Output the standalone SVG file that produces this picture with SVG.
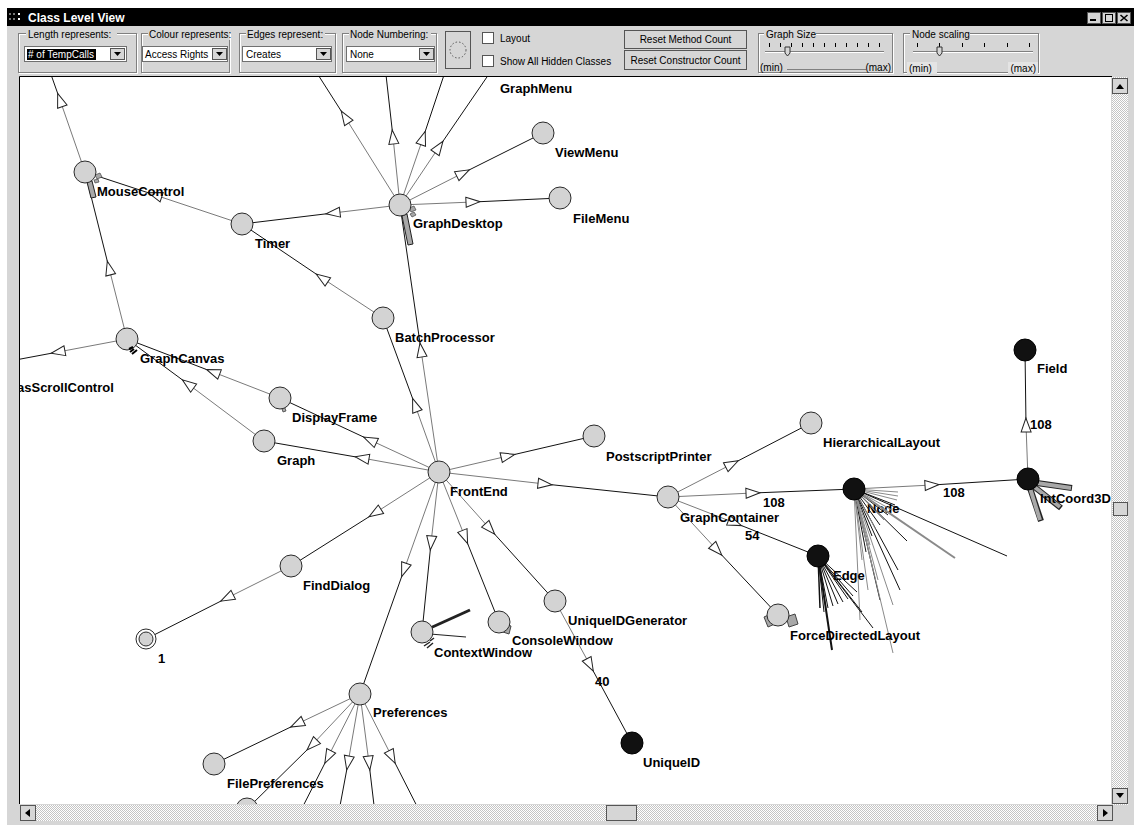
<svg xmlns="http://www.w3.org/2000/svg" width="1134" height="825" viewBox="0 0 1134 825">
<style>
.ui{font-family:"Liberation Sans",Arial,sans-serif;font-size:10px;fill:#000}
.lbl{font-family:"Liberation Sans",Arial,sans-serif;font-size:13px;font-weight:bold;fill:#000}
.n{fill:#d3d3d3;stroke:#2a2a2a;stroke-width:1}
.b{fill:#111;stroke:#000;stroke-width:1}
.g{stroke:#7a7a7a;stroke-width:1;fill:none}
.k{stroke:#111;stroke-width:1;fill:none;marker-start:url(#ar)}
.et1{fill:none;stroke:#fff}
.et2{fill:none;stroke:#808080}
.face{fill:#d6d6d6}
.btn{fill:#d6d6d6;stroke:#555}
.fg{stroke:#8a8a8a;stroke-width:1}
.fk{stroke:#111;stroke-width:1}
.bar{stroke:#222;stroke-width:6;stroke-linecap:butt}
.barin{stroke:#a8a8a8;stroke-width:4;stroke-linecap:butt}
</style>
<defs>
<marker id="ar" markerUnits="userSpaceOnUse" markerWidth="20" markerHeight="20" refX="7" refY="5" orient="auto" overflow="visible">
<path d="M0,0 L14,5 L0,10 Z" fill="#fff" stroke="#222" stroke-width="1"/>
</marker>
<pattern id="hatch" width="2" height="2" patternUnits="userSpaceOnUse">
<rect width="2" height="2" fill="#fff"/><rect width="1" height="1" fill="#c4c4c4"/><rect x="1" y="1" width="1" height="1" fill="#c4c4c4"/>
</pattern>
<clipPath id="cv"><rect x="20" y="77" width="1091" height="727"/></clipPath>
</defs>

<!-- window -->
<rect x="0" y="0" width="1134" height="825" fill="#fff"/>
<rect x="7" y="8" width="1127" height="817" class="face"/>
<rect x="7" y="8" width="1127" height="18" fill="#000"/>
<g fill="#777"><rect x="9" y="13" width="2" height="2"/><rect x="13" y="13" width="2" height="2"/><rect x="9" y="18" width="2" height="2"/><rect x="13" y="18" width="2" height="2"/></g>
<g fill="#fff"><rect x="18" y="13" width="2" height="2"/><rect x="18" y="18" width="2" height="2"/></g>
<text x="28" y="21.5" style="font-family:'Liberation Sans',Arial,sans-serif;font-size:12px;font-weight:bold;fill:#fff">Class Level View</text>
<g>
<rect x="1087.5" y="12.5" width="13" height="11" class="btn"/><rect x="1090" y="19" width="6" height="2" fill="#000"/>
<rect x="1102.5" y="12.5" width="13" height="11" class="btn"/><rect x="1105.5" y="14.5" width="7" height="7" fill="none" stroke="#000"/>
<rect x="1117.5" y="12.5" width="13" height="11" class="btn"/><path d="M1120.5,15 L1127.5,21 M1127.5,15 L1120.5,21" stroke="#000" stroke-width="1.6"/>
</g>

<!-- toolbar groups -->
<g id="grp-length">
<rect x="19.5" y="34.5" width="118" height="39" class="et1"/><rect x="18.5" y="33.5" width="118" height="39" class="et2"/>
<rect x="26" y="29" width="91" height="11" class="face"/>
<text x="28" y="38" class="ui">Length represents:</text>
<rect x="24.5" y="46.5" width="102" height="15" fill="#fff" stroke="#707070"/>
<rect x="27" y="49" width="69" height="11" fill="#000"/>
<text x="28" y="58" class="ui" style="fill:#fff"># of TempCalls</text>
<rect x="110.5" y="48.5" width="14" height="11" class="btn"/><path d="M114,52 L121,52 L117.5,56 Z" fill="#000"/>
</g>
<g id="grp-colour">
<rect x="142.5" y="34.5" width="88" height="39" class="et1"/><rect x="141.5" y="33.5" width="88" height="39" class="et2"/>
<rect x="148" y="29" width="82" height="11" class="face"/>
<text x="149" y="38" class="ui">Colour represents:</text>
<rect x="142.5" y="46.5" width="85" height="15" fill="#fff" stroke="#707070"/>
<text x="145" y="58" class="ui">Access Rights</text>
<rect x="212.5" y="48.5" width="14" height="11" class="btn"/><path d="M216,52 L223,52 L219.5,56 Z" fill="#000"/>
</g>
<g id="grp-edges">
<rect x="240.5" y="34.5" width="96" height="39" class="et1"/><rect x="239.5" y="33.5" width="96" height="39" class="et2"/>
<rect x="246" y="29" width="79" height="11" class="face"/>
<text x="247" y="38" class="ui">Edges represent:</text>
<rect x="242.5" y="46.5" width="89" height="15" fill="#fff" stroke="#707070"/>
<text x="246" y="58" class="ui">Creates</text>
<rect x="316.5" y="48.5" width="14" height="11" class="btn"/><path d="M320,52 L327,52 L323.5,56 Z" fill="#000"/>
</g>
<g id="grp-numbering">
<rect x="343.5" y="34.5" width="94" height="39" class="et1"/><rect x="342.5" y="33.5" width="94" height="39" class="et2"/>
<rect x="349" y="29" width="82" height="11" class="face"/>
<text x="350" y="38" class="ui">Node Numbering:</text>
<rect x="346.5" y="46.5" width="88" height="15" fill="#fff" stroke="#707070"/>
<text x="350" y="58" class="ui">None</text>
<rect x="419.5" y="48.5" width="14" height="11" class="btn"/><path d="M423,52 L430,52 L426.5,56 Z" fill="#000"/>
</g>
<g id="btn-circle">
<rect x="445.5" y="31.5" width="25" height="37" class="btn"/>
<circle cx="458" cy="50" r="8" fill="none" stroke="#555" stroke-dasharray="1.5 2"/>
</g>
<g id="chk-layout">
<rect x="482.5" y="32.5" width="11" height="11" fill="#fff" stroke="#555"/>
<text x="500" y="42" class="ui">Layout</text>
</g>
<g id="chk-hidden">
<rect x="482.5" y="55.5" width="11" height="11" fill="#fff" stroke="#555"/>
<text x="500" y="65" class="ui">Show All Hidden Classes</text>
</g>
<g id="btn-reset-method">
<rect x="624.5" y="30.5" width="122" height="18" class="btn"/>
<text x="685.5" y="43" class="ui" text-anchor="middle">Reset Method Count</text>
</g>
<g id="btn-reset-ctor">
<rect x="624.5" y="50.5" width="122" height="19" class="btn"/>
<text x="685.5" y="63.5" class="ui" text-anchor="middle">Reset Constructor Count</text>
</g>
<g id="grp-graphsize">
<rect x="759.5" y="34.5" width="134" height="39" class="et1"/><rect x="758.5" y="33.5" width="134" height="39" class="et2"/>
<rect x="764" y="29" width="52" height="11" class="face"/>
<text x="766" y="38" class="ui">Graph Size</text>
<g stroke="#000"><path d="M769.5,43 v4 M780.5,43 v4 M791.5,43 v4 M802.5,43 v4 M813.5,43 v4 M824.5,43 v4 M835.5,43 v4 M846.5,43 v4 M857.5,43 v4 M868.5,43 v4 M879.5,43 v4"/></g>
<path d="M765,51.5 H884" stroke="#808080"/><path d="M765,52.5 H884" stroke="#fff"/>
<path d="M785,47 h5 v6 l-2.5,3 l-2.5,-3 z" fill="#d6d6d6" stroke="#333"/>
<text x="760" y="71" class="ui">(min)</text>
<path d="M787,69.5 H866" stroke="#808080"/>
<text x="891" y="71" class="ui" text-anchor="end">(max)</text>
</g>
<g id="grp-nodescaling">
<rect x="904.5" y="34.5" width="135" height="39" class="et1"/><rect x="903.5" y="33.5" width="135" height="39" class="et2"/>
<rect x="910" y="29" width="60" height="11" class="face"/>
<text x="912" y="38" class="ui">Node scaling</text>
<g stroke="#000"><path d="M917.5,43 v4 M939.5,43 v4 M962.5,43 v4 M984.5,43 v4 M1007.5,43 v4 M1029.5,43 v4"/></g>
<path d="M913,51.5 H1033" stroke="#808080"/><path d="M913,52.5 H1033" stroke="#fff"/>
<path d="M937,47 h5 v6 l-2.5,3 l-2.5,-3 z" fill="#d6d6d6" stroke="#333"/>
<rect x="907" y="62" width="30" height="12" fill="#e4e4e4"/>
<rect x="1008" y="62" width="30" height="12" fill="#e4e4e4"/>
<text x="909" y="72" class="ui">(min)</text>
<text x="1036" y="72" class="ui" text-anchor="end">(max)</text>
</g>

<!-- canvas -->
<rect x="20" y="77" width="1091" height="727" fill="#fff"/>
<path d="M19.5,804 V76.5 H1112" fill="none" stroke="#000"/>

<!-- scrollbars -->
<g id="vscroll">
<rect x="1112" y="77" width="16" height="728" fill="url(#hatch)"/>
<rect x="1112.5" y="78.5" width="15" height="15" class="btn"/><path d="M1116,89 L1124,89 L1120,84 Z" fill="#000"/>
<rect x="1113.5" y="502.5" width="14" height="13" class="btn"/>
<rect x="1112.5" y="788.5" width="15" height="15" class="btn"/><path d="M1116,793 L1124,793 L1120,798 Z" fill="#000"/>
</g>
<g id="hscroll">
<rect x="20" y="805" width="1093" height="16" fill="url(#hatch)"/>
<rect x="20.5" y="805.5" width="15" height="15" class="btn"/><path d="M30,809 L30,817 L25,813 Z" fill="#000"/>
<rect x="606.5" y="805.5" width="30" height="15" class="btn"/>
<rect x="1097.5" y="805.5" width="15" height="15" class="btn"/><path d="M1103,809 L1103,817 L1108,813 Z" fill="#000"/>
</g>

<g clip-path="url(#cv)">
<g id="connectors">
<path class="g" d="M85,172 L60,100"/><path class="k" d="M60,100 L48,66"/>
<path class="g" d="M127,339 L109,268"/><path class="k" d="M109,268 L85,172"/>
<path class="g" d="M242,224 L155,195"/><path class="k" d="M155,195 L85,172"/>
<path class="g" d="M400,205 L333,213"/><path class="k" d="M333,213 L242,224"/>
<path class="g" d="M383,318 L322,278"/><path class="k" d="M322,278 L242,224"/>
<path class="g" d="M400,205 L345,117"/><path class="k" d="M345,117 L315,70"/>
<path class="g" d="M400,205 L393,137"/><path class="k" d="M393,137 L385,66"/>
<path class="g" d="M400,205 L423,138"/><path class="k" d="M423,138 L445,72"/>
<path class="g" d="M400,205 L439,147"/><path class="k" d="M439,147 L489,74"/>
<path class="g" d="M400,205 L463,173"/><path class="k" d="M463,173 L543,133"/>
<path class="g" d="M400,205 L473,202"/><path class="k" d="M473,202 L560,198"/>
<path class="g" d="M439,472 L421,350"/><path class="k" d="M421,350 L400,205"/>
<path class="g" d="M439,472 L415,405"/><path class="k" d="M415,405 L383,318"/>
<path class="g" d="M127,339 L58,352"/><path class="k" d="M58,352 L10,361"/>
<path class="g" d="M280,398 L213,372"/><path class="k" d="M213,372 L127,339"/>
<path class="g" d="M264,441 L188,384"/><path class="k" d="M188,384 L127,339"/>
<path class="g" d="M439,472 L370,440"/><path class="k" d="M370,440 L280,398"/>
<path class="g" d="M439,472 L362,458"/><path class="k" d="M362,458 L264,441"/>
<path class="g" d="M439,472 L508,456"/><path class="k" d="M508,456 L594,436"/>
<path class="g" d="M439,472 L545,484"/><path class="k" d="M545,484 L668,497"/>
<path class="g" d="M668,497 L732,464"/><path class="k" d="M732,464 L811,423"/>
<path class="g" d="M668,497 L753,493"/><path class="k" d="M753,493 L854,489"/>
<path class="g" d="M668,497 L735,523"/><path class="k" d="M735,523 L818,556"/>
<path class="g" d="M668,497 L717,550"/><path class="k" d="M717,550 L778,615"/>
<path class="g" d="M854,489 L932,485"/><path class="k" d="M932,485 L1028,479"/>
<path class="g" d="M1028,479 L1026,425"/><path class="k" d="M1026,425 L1025,350"/>
<path class="g" d="M439,472 L375,513"/><path class="k" d="M375,513 L291,566"/>
<path class="g" d="M291,566 L227,598"/><path class="k" d="M227,598 L146,639"/>
<path class="g" d="M439,472 L404,570"/><path class="k" d="M404,570 L360,694"/>
<path class="g" d="M439,472 L431,543"/><path class="k" d="M431,543 L422,632"/>
<path class="g" d="M439,472 L465,537"/><path class="k" d="M465,537 L499,622"/>
<path class="g" d="M439,472 L490,529"/><path class="k" d="M490,529 L555,601"/>
<path class="g" d="M555,601 L590,665"/><path class="k" d="M590,665 L632,743"/>
<path class="g" d="M360,694 L297,724"/><path class="k" d="M297,724 L214,764"/>
<path class="g" d="M360,694 L312,745"/><path class="k" d="M312,745 L247,809"/>
<path class="g" d="M360,694 L328,757"/><path class="k" d="M328,757 L295,822"/>
<path class="g" d="M360,694 L348,763"/><path class="k" d="M348,763 L337,822"/>
<path class="g" d="M360,694 L369,763"/><path class="k" d="M369,763 L376,822"/>
<path class="g" d="M360,694 L392,757"/><path class="k" d="M392,757 L425,822"/>
<g class="lbl">
<text x="763" y="507">108</text>
<text x="745" y="540">54</text>
<text x="943" y="497">108</text>
<text x="1030" y="429">108</text>
<text x="595" y="686">40</text>
</g>
</g>

<g id="n-mousecontrol">
<path d="M87,182 L92,181 L96,197 L91,198 Z" fill="#a8a8a8" stroke="#222"/>
<path d="M95,175 l5,-2 l2,4 l-5,2 Z M94,180 l4,-1 l1,3 l-4,1 Z" fill="#a8a8a8" stroke="#444" stroke-width="0.7"/>
<circle cx="85" cy="172" r="11" class="n"/>
<text x="97" y="196" class="lbl">MouseControl</text>
</g>
<g id="n-timer"><circle cx="242" cy="224" r="11" class="n"/><text x="255" y="248" class="lbl">Timer</text></g>
<g id="n-graphdesktop">
<path d="M402,216 L407,214 L413,244 L408,245 Z" fill="#a8a8a8" stroke="#222"/>
<path d="M409,208 l5,-2 l2,4 l-5,2 Z M410,214 l4,-2 l2,3 l-4,2 Z" fill="#a8a8a8" stroke="#444" stroke-width="0.7"/>
<circle cx="400" cy="205" r="11" class="n"/>
<text x="413" y="228" class="lbl">GraphDesktop</text>
</g>
<g id="n-viewmenu"><circle cx="543" cy="133" r="11" class="n"/><text x="555" y="157" class="lbl">ViewMenu</text></g>
<g id="n-filemenu"><circle cx="560" cy="198" r="11" class="n"/><text x="573" y="223" class="lbl">FileMenu</text></g>
<g id="n-graphmenu"><text x="500" y="93" class="lbl">GraphMenu</text></g>
<g id="n-batchprocessor"><circle cx="383" cy="318" r="11" class="n"/><text x="395" y="342" class="lbl">BatchProcessor</text></g>
<g id="n-graphcanvas">
<circle cx="127" cy="339" r="11" class="n"/>
<path d="M130,352 l4,-3 M132,354 l5,-4 M129,349 l4,-2" stroke="#000" stroke-width="2"/>
<text x="140" y="363" class="lbl">GraphCanvas</text>
</g>
<g id="n-scrollcontrol"><text x="17" y="392" class="lbl">asScrollControl</text></g>
<g id="n-displayframe">
<circle cx="280" cy="398" r="11" class="n"/>
<path d="M282,409 l3,-1 l1,3 l-3,1 Z" fill="#a8a8a8" stroke="#333" stroke-width="0.7"/>
<text x="292" y="422" class="lbl">DisplayFrame</text>
</g>
<g id="n-graph"><circle cx="264" cy="441" r="11" class="n"/><text x="277" y="465" class="lbl">Graph</text></g>
<g id="n-frontend"><circle cx="439" cy="472" r="11" class="n"/><text x="450" y="496" class="lbl">FrontEnd</text></g>
<g id="n-postscriptprinter"><circle cx="594" cy="436" r="11" class="n"/><text x="606" y="461" class="lbl">PostscriptPrinter</text></g>
<g id="n-graphcontainer"><circle cx="668" cy="497" r="11" class="n"/><text x="680" y="522" class="lbl">GraphContainer</text></g>
<g id="n-hierarchicallayout"><circle cx="811" cy="423" r="11" class="n"/><text x="823" y="447" class="lbl">HierarchicalLayout</text></g>
<g id="n-node">
<text x="867" y="513" class="lbl">Node</text>
<g class="fk">
<line x1="854" y1="489" x2="1007" y2="556"/><line x1="854" y1="489" x2="907" y2="541"/>
<line x1="854" y1="489" x2="898" y2="570"/><line x1="854" y1="489" x2="900" y2="590"/>
<line x1="854" y1="489" x2="880" y2="600"/><line x1="854" y1="489" x2="895" y2="505"/>
<line x1="854" y1="489" x2="888" y2="515"/><line x1="854" y1="489" x2="880" y2="525"/>
<line x1="854" y1="489" x2="872" y2="536"/><line x1="854" y1="489" x2="866" y2="552"/>
</g>
<g class="fg">
<line x1="854" y1="489" x2="955" y2="558" stroke-width="2"/><line x1="854" y1="489" x2="893" y2="605"/>
<line x1="854" y1="489" x2="893" y2="653"/><line x1="854" y1="489" x2="868" y2="590"/>
<line x1="854" y1="489" x2="860" y2="620"/><line x1="854" y1="489" x2="898" y2="492"/>
<line x1="854" y1="489" x2="898" y2="496"/><line x1="854" y1="489" x2="897" y2="500"/>
<line x1="854" y1="489" x2="892" y2="510"/><line x1="854" y1="489" x2="884" y2="520"/>
<line x1="854" y1="489" x2="876" y2="530"/><line x1="854" y1="489" x2="870" y2="545"/>
<line x1="854" y1="489" x2="862" y2="560"/><line x1="854" y1="489" x2="873" y2="570"/>
<line x1="854" y1="489" x2="878" y2="580"/>
</g>
<circle cx="854" cy="489" r="11" class="b"/>
</g>
<g id="n-intcoord3d">
<line x1="1030" y1="482" x2="1072" y2="488" class="bar"/><line x1="1030" y1="482" x2="1071" y2="488" class="barin"/>
<line x1="1032" y1="485" x2="1061" y2="508" class="bar"/><line x1="1032" y1="485" x2="1060" y2="507" class="barin"/>
<line x1="1030" y1="488" x2="1041" y2="521" class="bar"/><line x1="1030" y1="488" x2="1040" y2="520" class="barin"/>
<circle cx="1028" cy="479" r="11" class="b"/>
<text x="1040" y="503" class="lbl">IntCoord3D</text>
</g>
<g id="n-field"><circle cx="1025" cy="350" r="11" class="b"/><text x="1037" y="373" class="lbl">Field</text></g>
<g id="n-edge">
<text x="833" y="580" class="lbl">Edge</text>
<g class="fk">
<line x1="818" y1="556" x2="820" y2="608" stroke-width="1.5"/><line x1="818" y1="556" x2="824" y2="612"/>
<line x1="818" y1="556" x2="828" y2="608"/><line x1="818" y1="556" x2="833" y2="606"/>
<line x1="818" y1="556" x2="838" y2="604"/><line x1="818" y1="556" x2="843" y2="602"/>
<line x1="818" y1="556" x2="848" y2="599"/><line x1="818" y1="556" x2="853" y2="596"/>
<line x1="818" y1="556" x2="857" y2="592"/><line x1="818" y1="556" x2="832" y2="650" stroke-width="2"/>
<line x1="818" y1="556" x2="873" y2="628"/><line x1="818" y1="556" x2="862" y2="612"/>
</g>
<circle cx="818" cy="556" r="11" class="b"/>
</g>
<g id="n-forcedirectedlayout">
<path d="M764,617 l9,-4 l4,10 l-9,4 Z M786,617 l9,-3 l3,10 l-9,3 Z" fill="#a8a8a8" stroke="#444"/>
<circle cx="778" cy="615" r="11" class="n"/>
<text x="790" y="640" class="lbl">ForceDirectedLayout</text>
</g>
<g id="n-uniqueidgenerator"><circle cx="555" cy="601" r="11" class="n"/><text x="568" y="625" class="lbl">UniqueIDGenerator</text></g>
<g id="n-consolewindow">
<path d="M505,624 l6,2 l-2,8 l-6,-2 Z" fill="#a8a8a8" stroke="#444"/>
<circle cx="499" cy="622" r="11" class="n"/>
<text x="512" y="645" class="lbl">ConsoleWindow</text>
</g>
<g id="n-contextwindow">
<line x1="428" y1="629" x2="470" y2="610" stroke="#222" stroke-width="3"/>
<line x1="430" y1="634" x2="466" y2="637" stroke="#222" stroke-width="1.2"/>
<path d="M424,646 l6,-4 M427,648 l6,-5 M430,641 l4,-3" stroke="#222" stroke-width="1.5"/>
<circle cx="422" cy="632" r="11" class="n"/>
<text x="434" y="657" class="lbl">ContextWindow</text>
</g>
<g id="n-finddialog"><circle cx="291" cy="566" r="11" class="n"/><text x="303" y="590" class="lbl">FindDialog</text></g>
<g id="n-1">
<circle cx="146" cy="639" r="10" fill="#fff" stroke="#2a2a2a"/>
<circle cx="146" cy="639" r="7" class="n"/>
<text x="158" y="663" class="lbl">1</text>
</g>
<g id="n-preferences"><circle cx="360" cy="694" r="11" class="n"/><text x="373" y="717" class="lbl">Preferences</text></g>
<g id="n-filepreferences"><circle cx="214" cy="764" r="11" class="n"/><text x="227" y="788" class="lbl">FilePreferences</text></g>
<g id="n-partial"><circle cx="247" cy="809" r="11" class="n"/></g>
<g id="n-uniqueid"><circle cx="632" cy="743" r="11" class="b"/><text x="643" y="767" class="lbl">UniqueID</text></g>
</g>
</svg>
